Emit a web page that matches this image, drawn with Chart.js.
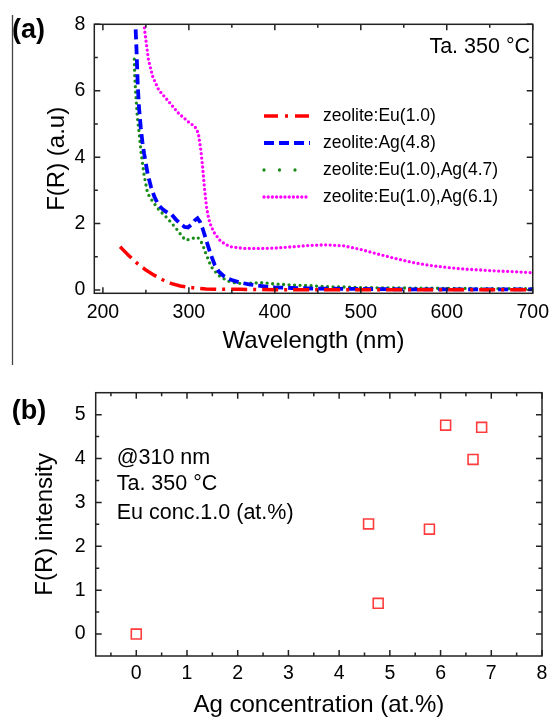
<!DOCTYPE html>
<html lang="en">
<head>
    <meta charset="UTF-8">
    <title>zeolite F(R) spectra</title>
    <script src="https://cdn.jsdelivr.net/npm/chart.js@4.4.0/dist/chart.umd.min.js"></script>
    <style>
        body { margin: 0; background: #fff; overflow: hidden; }
        .panel { position: absolute; left: 0; }
        #panelA { top: 0; }
        #panelB { top: 365px; }
    </style>
</head>
<body>
    <div class="panel" id="panelA"><canvas id="specChart" width="557" height="365"></canvas></div>
    <div class="panel" id="panelB"><canvas id="concChart" width="557" height="352"></canvas></div>

    <script>
        // ---- (a) F(R) spectra, wavelength in nm ----
        const euWl = [220, 225, 230, 235, 240, 245, 250, 255, 260, 265, 270, 275, 280, 290, 300, 310, 320, 340, 360, 400, 450, 500, 550, 600, 650, 700];
        const euF  = [1.30, 1.17, 1.04, 0.92, 0.80, 0.70, 0.60, 0.52, 0.44, 0.37, 0.30, 0.24, 0.19, 0.12, 0.08, 0.05, 0.03, 0.02, 0.02, 0.01, 0.01, 0.01, 0.01, 0.01, 0.01, 0.01];

        const agWl = [237.5, 238, 239, 240.5, 242, 244, 246, 248, 252, 256, 260, 265, 270, 275, 280, 285, 290, 295, 299, 303, 307, 310, 313, 316, 320, 325, 330, 335, 340, 345, 350, 360, 370, 380, 390, 400, 420, 450, 500, 550, 600, 650, 700];
        const agF  = [8.3, 7.9, 7.3, 6.2, 5.5, 4.9, 4.45, 4.1, 3.5, 3.1, 2.8, 2.55, 2.42, 2.33, 2.27, 2.12, 2.0, 1.9, 1.88, 1.97, 2.1, 2.16, 2.05, 1.85, 1.52, 1.1, 0.76, 0.55, 0.43, 0.35, 0.3, 0.22, 0.17, 0.13, 0.1, 0.08, 0.06, 0.04, 0.03, 0.02, 0.02, 0.02, 0.02];

        const euAg47Wl = [236.5, 237, 238, 240, 242, 244.5, 248, 252, 258, 265, 275, 285, 292, 296, 300, 305, 310, 314, 317, 320, 326, 334, 345, 356, 370, 385, 400, 420, 440, 460, 480, 500, 550, 600, 650, 700];
        const euAg47F  = [6.95, 6.47, 6.0, 5.22, 4.77, 4.12, 3.45, 2.91, 2.66, 2.42, 2.16, 1.86, 1.62, 1.5, 1.52, 1.56, 1.59, 1.47, 1.3, 1.08, 0.7, 0.45, 0.27, 0.2, 0.2, 0.22, 0.18, 0.15, 0.13, 0.1, 0.09, 0.07, 0.06, 0.05, 0.04, 0.04];

        const euAg61Wl = [247, 248.5, 250.5, 253, 258, 265, 275, 288, 300, 307, 311, 314, 316, 318, 320.5, 323, 326, 330, 336, 342, 349, 364, 383, 400, 420, 440, 460, 480, 500, 520, 540, 560, 580, 600, 620, 640, 660, 680, 700];
        const euAg61F  = [8.3, 7.83, 7.43, 6.93, 6.42, 6.02, 5.72, 5.32, 5.05, 4.92, 4.72, 4.2, 3.7, 3.11, 2.51, 2.15, 1.91, 1.7, 1.5, 1.38, 1.3, 1.25, 1.25, 1.26, 1.3, 1.34, 1.36, 1.33, 1.22, 1.08, 0.95, 0.83, 0.74, 0.68, 0.63, 0.6, 0.57, 0.55, 0.52];

        const seriesLabels = ['zeolite:Eu(1.0)', 'zeolite:Ag(4.8)', 'zeolite:Eu(1.0),Ag(4.7)', 'zeolite:Eu(1.0),Ag(6.1)'];
        const wlTicks = [200, 300, 400, 500, 600, 700];
        const wlMinor = [250, 350, 450, 550, 650];
        const fTicks = [0, 2, 4, 6, 8];
        const fMinor = [1, 3, 5, 7];

        // ---- (b) F(R) at 310 nm vs Ag content ----
        const agConc = [0, 4.58, 4.77, 5.78, 6.10, 6.64, 6.81];
        const intensity310 = [0, 2.51, 0.70, 2.39, 4.76, 3.98, 4.71];
        const concTicks = [0, 1, 2, 3, 4, 5, 6, 7, 8];
        const concMinor = [-0.5, 0.5, 1.5, 2.5, 3.5, 4.5, 5.5, 6.5, 7.5];
        const intTicks = [0, 1, 2, 3, 4, 5];
        const intMinor = [0.5, 1.5, 2.5, 3.5, 4.5];

        const FAMILY = "'Liberation Sans', Arial, Helvetica, sans-serif";
        Chart.defaults.font.family = FAMILY;
        Chart.defaults.color = '#000';
        Chart.defaults.animation = false;

        const pairs = (xs, ys) => xs.map((x, i) => ({ x: x, y: ys[i] }));
        const fixTicks = list => scale => { scale.ticks = list.map(v => ({ value: v })); };

        // box round the plot with inward ticks on all four sides
        function makeFrame(xMaj, xMin, yMaj, yMin) {
            return {
                id: 'frame',
                afterDatasetsDraw(chart) {
                    const { ctx, chartArea: a, scales: { x, y } } = chart;
                    ctx.save();
                    ctx.strokeStyle = '#222';
                    ctx.lineWidth = 1.5;
                    ctx.strokeRect(a.left, a.top, a.right - a.left, a.bottom - a.top);
                    ctx.beginPath();
                    const vert = (vals, len) => vals.forEach(v => {
                        const px = x.getPixelForValue(v);
                        ctx.moveTo(px, a.bottom); ctx.lineTo(px, a.bottom - len);
                        ctx.moveTo(px, a.top); ctx.lineTo(px, a.top + len);
                    });
                    const horiz = (vals, len) => vals.forEach(v => {
                        const py = y.getPixelForValue(v);
                        ctx.moveTo(a.left, py); ctx.lineTo(a.left + len, py);
                        ctx.moveTo(a.right, py); ctx.lineTo(a.right - len, py);
                    });
                    vert(xMaj, 6); vert(xMin, 3.5);
                    horiz(yMaj, 6); horiz(yMin, 3.5);
                    ctx.stroke();
                    ctx.restore();
                }
            };
        }

        // free text on the canvas (panel letters, conditions), plus the page rule
        function makeNotes(items, rule) {
            return {
                id: 'notes',
                afterDraw(chart) {
                    const ctx = chart.ctx;
                    ctx.save();
                    ctx.fillStyle = '#000';
                    ctx.textBaseline = 'alphabetic';
                    items.forEach(t => {
                        ctx.font = (t.bold ? 'bold ' : '') + t.size + 'px ' + FAMILY;
                        ctx.textAlign = t.align || 'left';
                        ctx.fillText(t.text, t.x, t.y);
                    });
                    if (rule) {
                        ctx.strokeStyle = '#444';
                        ctx.lineWidth = 1.3;
                        ctx.beginPath();
                        ctx.moveTo(rule.x, rule.y0);
                        ctx.lineTo(rule.x, rule.y1);
                        ctx.stroke();
                    }
                    ctx.restore();
                }
            };
        }

        // legend inside the spectra panel
        const seriesKey = {
            id: 'seriesKey',
            afterDatasetsDraw(chart) {
                const ctx = chart.ctx;
                ctx.save();
                ctx.font = '17.5px ' + FAMILY;
                ctx.textBaseline = 'middle';
                ctx.textAlign = 'left';
                chart.data.datasets.forEach((ds, i) => {
                    const y = 116 + i * 27;
                    ctx.beginPath();
                    ctx.strokeStyle = ds.borderColor;
                    ctx.lineWidth = ds.borderWidth;
                    ctx.lineCap = ds.borderCapStyle || 'butt';
                    ctx.setLineDash(ds.legendDash || ds.borderDash || []);
                    ctx.moveTo(264, y);
                    ctx.lineTo(310, y);
                    ctx.stroke();
                    ctx.setLineDash([]);
                    ctx.fillStyle = '#000';
                    ctx.fillText(ds.label, 323, y);
                });
                ctx.restore();
            }
        };

        const tickFont = { size: 19.5 };
        const titleFont = { size: 24 };

        new Chart(document.getElementById('specChart'), {
            type: 'line',
            data: {
                datasets: [
                    { label: seriesLabels[0], data: pairs(euWl, euF), borderColor: '#ff0000', borderWidth: 3.5,
                      borderDash: [16, 6, 3, 6], legendDash: [14, 7, 3, 7], clip: 0 },
                    { label: seriesLabels[1], data: pairs(agWl, agF), borderColor: '#0000ff', borderWidth: 3.8,
                      borderDash: [10, 5], clip: 0 },
                    { label: seriesLabels[2], data: pairs(euAg47Wl, euAg47F), borderColor: '#1a8a1a', borderWidth: 3.3,
                      borderDash: [0, 5.5], borderCapStyle: 'round', legendDash: [0, 15.5], clip: 0 },
                    { label: seriesLabels[3], data: pairs(euAg61Wl, euAg61F), borderColor: '#ff00ff', borderWidth: 3.3,
                      borderDash: [0, 4.5], borderCapStyle: 'round', legendDash: [0, 4.2], clip: 0 }
                ]
            },
            options: {
                responsive: false,
                layout: { padding: { left: 0, top: 24.3, right: 15.3, bottom: 9.7 } },
                elements: { point: { radius: 0 }, line: { tension: 0 } },
                plugins: { legend: { display: false }, tooltip: { enabled: false } },
                scales: {
                    x: {
                        type: 'linear', min: 190, max: 700,
                        afterBuildTicks: fixTicks(wlTicks),
                        afterFit: s => { s.height = 62; },
                        grid: { display: false, drawTicks: false },
                        border: { display: false },
                        ticks: { padding: 8, font: tickFont, autoSkip: false, maxRotation: 0 },
                        title: { display: true, text: 'Wavelength (nm)', font: titleFont, padding: 0 }
                    },
                    y: {
                        type: 'linear', min: -0.1, max: 8,
                        afterBuildTicks: fixTicks(fTicks),
                        afterFit: s => { s.width = 94.3; },
                        grid: { display: false, drawTicks: false },
                        border: { display: false },
                        ticks: { padding: 9, font: tickFont },
                        title: { display: true, text: 'F(R) (a.u)', font: titleFont, padding: { top: 42.6, bottom: 0 } }
                    }
                }
            },
            plugins: [
                makeFrame(wlTicks, wlMinor, fTicks, fMinor),
                seriesKey,
                makeNotes([
                    { text: '(a)', x: 12, y: 38, size: 27, bold: true },
                    { text: 'Ta. 350 °C', x: 530, y: 53, size: 21.5, align: 'right' }
                ], { x: 12.5, y0: 15, y1: 365 })
            ]
        });

        new Chart(document.getElementById('concChart'), {
            type: 'scatter',
            data: {
                datasets: [{
                    label: 'F(R) @310 nm',
                    data: pairs(agConc, intensity310),
                    pointStyle: 'rect',
                    pointRadius: 7,
                    borderColor: '#ff3b3b',
                    borderWidth: 1.6,
                    backgroundColor: 'rgba(0,0,0,0)'
                }]
            },
            options: {
                responsive: false,
                layout: { padding: { left: 0, top: 27.7, right: 15, bottom: 0 } },
                plugins: { legend: { display: false }, tooltip: { enabled: false } },
                scales: {
                    x: {
                        type: 'linear', min: -0.8, max: 8,
                        afterBuildTicks: fixTicks(concTicks),
                        afterFit: s => { s.height = 61; },
                        grid: { display: false, drawTicks: false },
                        border: { display: false },
                        ticks: { padding: 5.5, font: tickFont, autoSkip: false, maxRotation: 0 },
                        title: { display: true, text: 'Ag concentration (at.%)', font: { size: 24, lineHeight: 1 }, padding: 0 }
                    },
                    y: {
                        type: 'linear', min: -0.5, max: 5.5,
                        afterBuildTicks: fixTicks(intTicks),
                        afterFit: s => { s.width = 95.7; },
                        grid: { display: false, drawTicks: false },
                        border: { display: false },
                        ticks: { padding: 10, font: tickFont },
                        title: { display: true, text: 'F(R) intensity', font: titleFont, padding: { top: 30.6, bottom: 0 } }
                    }
                }
            },
            plugins: [
                makeFrame(concTicks, concMinor, intTicks, intMinor),
                makeNotes([
                    { text: '(b)', x: 11.7, y: 54, size: 27, bold: true },
                    { text: '@310 nm', x: 116.7, y: 98.5, size: 21.5 },
                    { text: 'Ta. 350 °C', x: 116.7, y: 124.5, size: 21.5 },
                    { text: 'Eu conc.1.0 (at.%)', x: 116.7, y: 154, size: 21.5 }
                ], null)
            ]
        });
    </script>
</body>
</html>
